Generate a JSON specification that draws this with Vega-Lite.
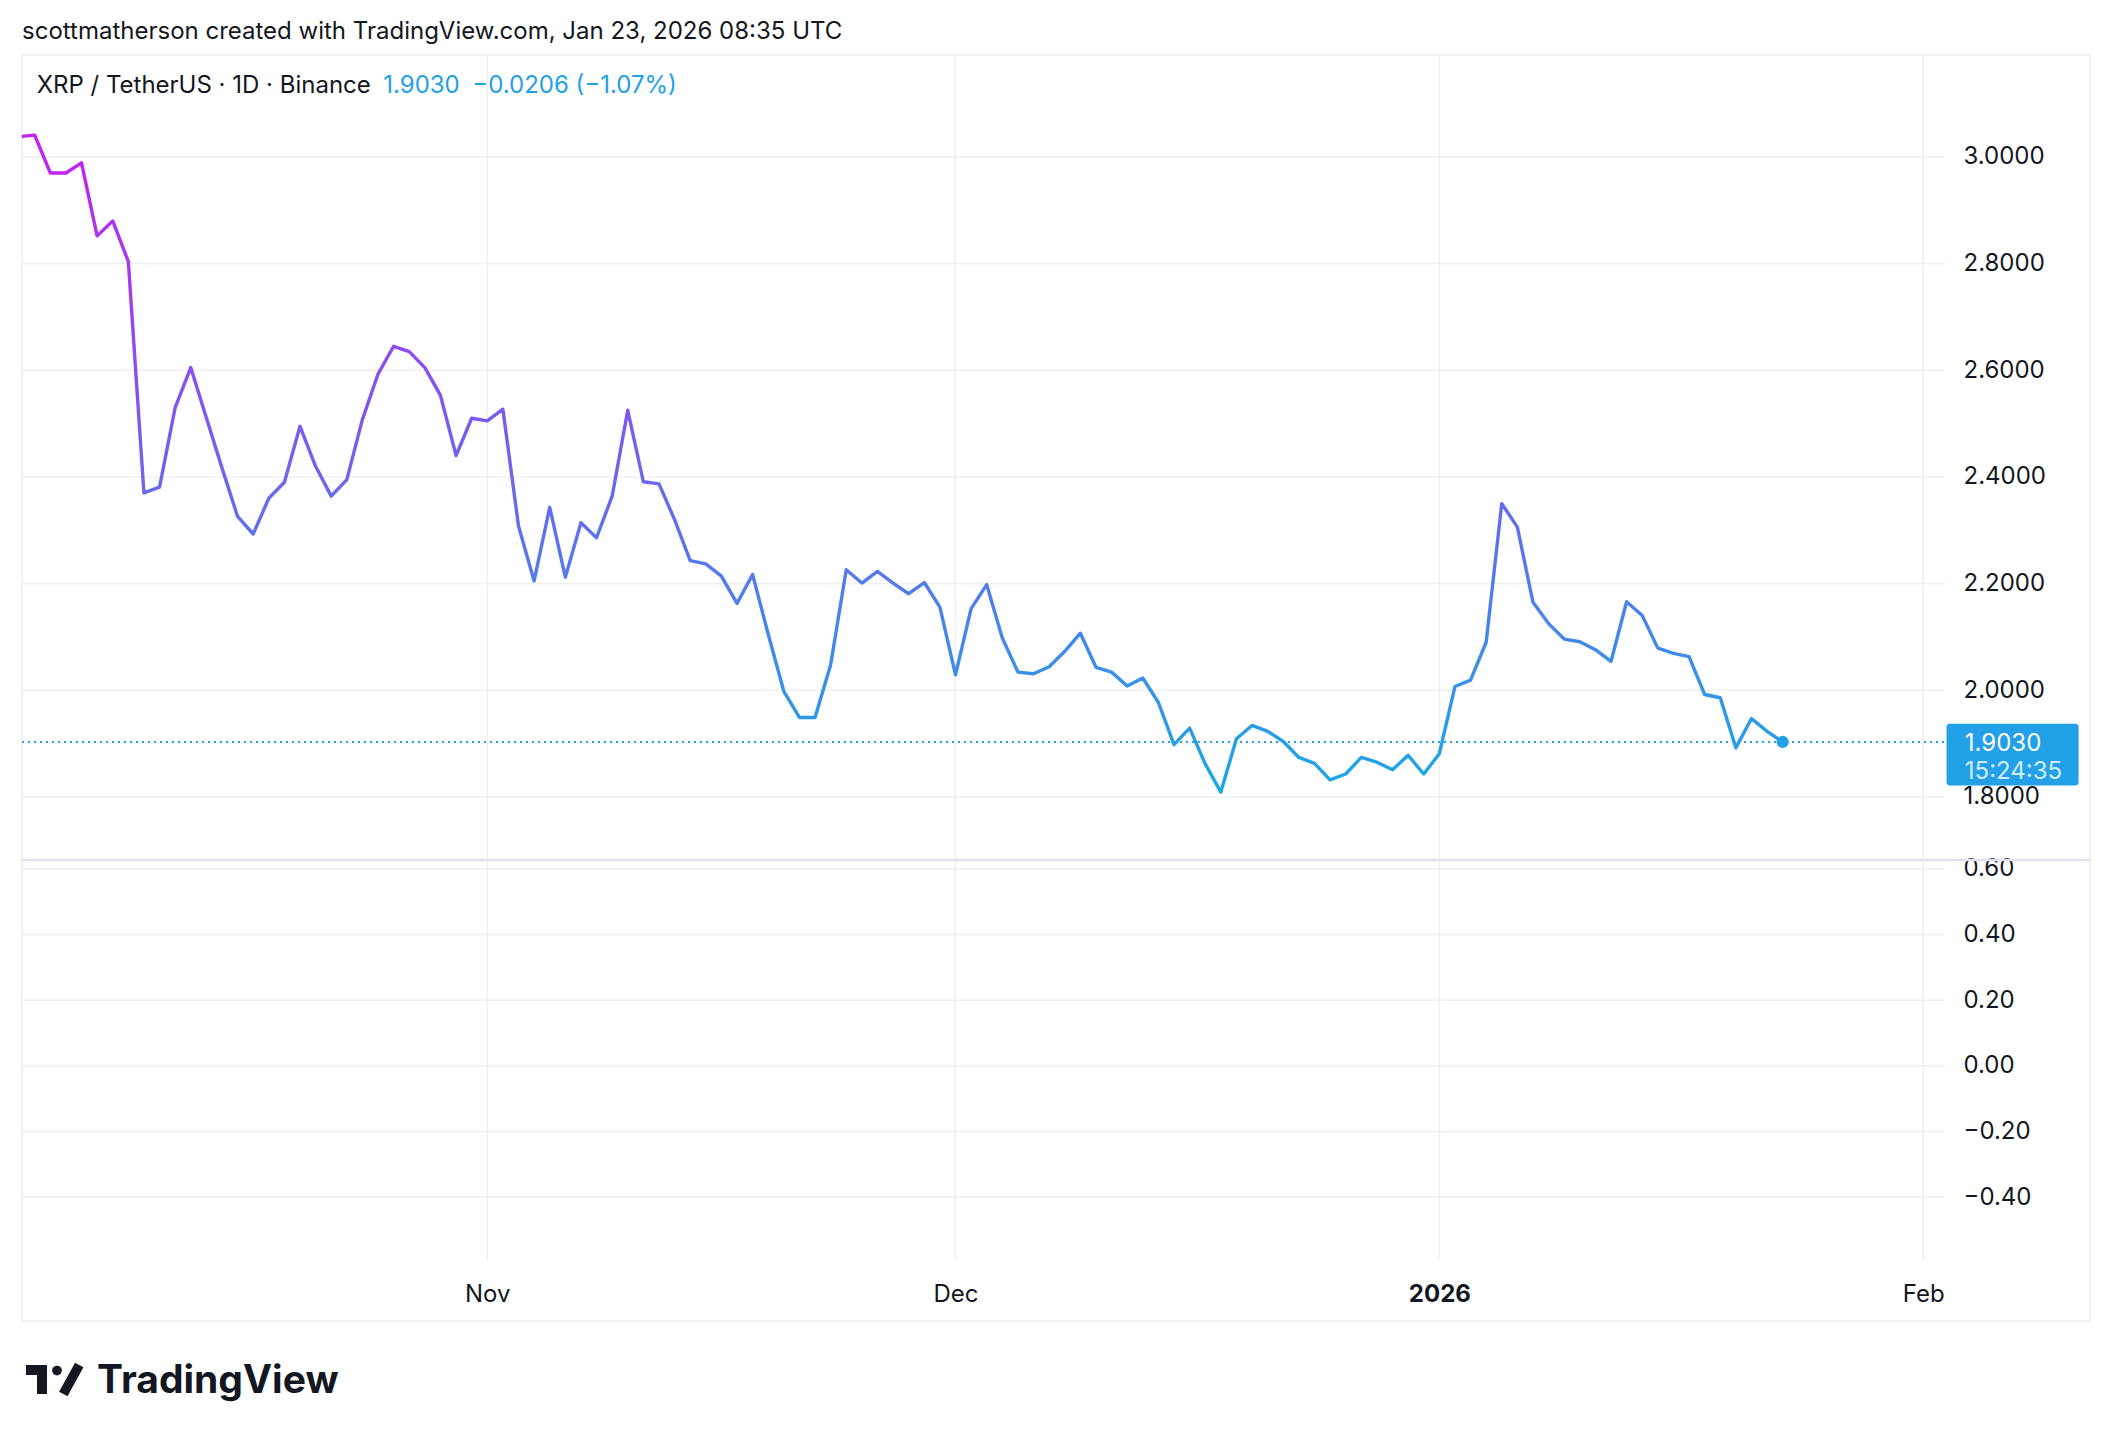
{
  "$schema": "https://vega.github.io/schema/vega-lite/v6.json",
  "background": "white",
  "padding": {"left": 20, "top": 20, "right": 20, "bottom": 20},
  "autosize": {"type": "pad"},
  "title": {
    "text": "scottmatherson created with TradingView.com, Jan 23, 2026 08:35 UTC",
    "anchor": "start",
    "frame": "group",
    "fontSize": 24,
    "fontWeight": "normal",
    "color": "#131722",
    "offset": 9.5
  },
  "config": {
    "font": "Inter",
    "view": {"stroke": "#ececec", "strokeWidth": 1.5},
    "axis": {"labelFont": "Inter", "labelFontSize": 24, "labelColor": "#131722"}
  },
  "datasets": {
    "xrp": [
      {"date": "2025-10-02", "price": 3.038},
      {"date": "2025-10-03", "price": 3.041},
      {"date": "2025-10-04", "price": 2.970},
      {"date": "2025-10-05", "price": 2.970},
      {"date": "2025-10-06", "price": 2.989},
      {"date": "2025-10-07", "price": 2.852},
      {"date": "2025-10-08", "price": 2.880},
      {"date": "2025-10-09", "price": 2.804},
      {"date": "2025-10-10", "price": 2.370},
      {"date": "2025-10-11", "price": 2.381},
      {"date": "2025-10-12", "price": 2.530},
      {"date": "2025-10-13", "price": 2.605},
      {"date": "2025-10-14", "price": 2.511},
      {"date": "2025-10-15", "price": 2.417},
      {"date": "2025-10-16", "price": 2.326},
      {"date": "2025-10-17", "price": 2.293},
      {"date": "2025-10-18", "price": 2.360},
      {"date": "2025-10-19", "price": 2.390},
      {"date": "2025-10-20", "price": 2.495},
      {"date": "2025-10-21", "price": 2.420},
      {"date": "2025-10-22", "price": 2.364},
      {"date": "2025-10-23", "price": 2.395},
      {"date": "2025-10-24", "price": 2.508},
      {"date": "2025-10-25", "price": 2.593},
      {"date": "2025-10-26", "price": 2.645},
      {"date": "2025-10-27", "price": 2.635},
      {"date": "2025-10-28", "price": 2.605},
      {"date": "2025-10-29", "price": 2.553},
      {"date": "2025-10-30", "price": 2.440},
      {"date": "2025-10-31", "price": 2.510},
      {"date": "2025-11-01", "price": 2.505},
      {"date": "2025-11-02", "price": 2.527},
      {"date": "2025-11-03", "price": 2.308},
      {"date": "2025-11-04", "price": 2.205},
      {"date": "2025-11-05", "price": 2.343},
      {"date": "2025-11-06", "price": 2.212},
      {"date": "2025-11-07", "price": 2.314},
      {"date": "2025-11-08", "price": 2.286},
      {"date": "2025-11-09", "price": 2.364},
      {"date": "2025-11-10", "price": 2.525},
      {"date": "2025-11-11", "price": 2.391},
      {"date": "2025-11-12", "price": 2.387},
      {"date": "2025-11-13", "price": 2.320},
      {"date": "2025-11-14", "price": 2.243},
      {"date": "2025-11-15", "price": 2.237},
      {"date": "2025-11-16", "price": 2.214},
      {"date": "2025-11-17", "price": 2.163},
      {"date": "2025-11-18", "price": 2.217},
      {"date": "2025-11-19", "price": 2.105},
      {"date": "2025-11-20", "price": 1.998},
      {"date": "2025-11-21", "price": 1.949},
      {"date": "2025-11-22", "price": 1.949},
      {"date": "2025-11-23", "price": 2.048},
      {"date": "2025-11-24", "price": 2.226},
      {"date": "2025-11-25", "price": 2.201},
      {"date": "2025-11-26", "price": 2.223},
      {"date": "2025-11-27", "price": 2.201},
      {"date": "2025-11-28", "price": 2.181},
      {"date": "2025-11-29", "price": 2.202},
      {"date": "2025-11-30", "price": 2.156},
      {"date": "2025-12-01", "price": 2.029},
      {"date": "2025-12-02", "price": 2.153},
      {"date": "2025-12-03", "price": 2.198},
      {"date": "2025-12-04", "price": 2.098},
      {"date": "2025-12-05", "price": 2.034},
      {"date": "2025-12-06", "price": 2.031},
      {"date": "2025-12-07", "price": 2.044},
      {"date": "2025-12-08", "price": 2.073},
      {"date": "2025-12-09", "price": 2.107},
      {"date": "2025-12-10", "price": 2.043},
      {"date": "2025-12-11", "price": 2.034},
      {"date": "2025-12-12", "price": 2.008},
      {"date": "2025-12-13", "price": 2.023},
      {"date": "2025-12-14", "price": 1.977},
      {"date": "2025-12-15", "price": 1.898},
      {"date": "2025-12-16", "price": 1.929},
      {"date": "2025-12-17", "price": 1.862},
      {"date": "2025-12-18", "price": 1.809},
      {"date": "2025-12-19", "price": 1.909},
      {"date": "2025-12-20", "price": 1.934},
      {"date": "2025-12-21", "price": 1.923},
      {"date": "2025-12-22", "price": 1.904},
      {"date": "2025-12-23", "price": 1.874},
      {"date": "2025-12-24", "price": 1.863},
      {"date": "2025-12-25", "price": 1.832},
      {"date": "2025-12-26", "price": 1.843},
      {"date": "2025-12-27", "price": 1.874},
      {"date": "2025-12-28", "price": 1.865},
      {"date": "2025-12-29", "price": 1.851},
      {"date": "2025-12-30", "price": 1.878},
      {"date": "2025-12-31", "price": 1.843},
      {"date": "2026-01-01", "price": 1.881},
      {"date": "2026-01-02", "price": 2.007},
      {"date": "2026-01-03", "price": 2.019},
      {"date": "2026-01-04", "price": 2.090},
      {"date": "2026-01-05", "price": 2.350},
      {"date": "2026-01-06", "price": 2.306},
      {"date": "2026-01-07", "price": 2.165},
      {"date": "2026-01-08", "price": 2.125},
      {"date": "2026-01-09", "price": 2.096},
      {"date": "2026-01-10", "price": 2.091},
      {"date": "2026-01-11", "price": 2.076},
      {"date": "2026-01-12", "price": 2.054},
      {"date": "2026-01-13", "price": 2.166},
      {"date": "2026-01-14", "price": 2.140},
      {"date": "2026-01-15", "price": 2.079},
      {"date": "2026-01-16", "price": 2.069},
      {"date": "2026-01-17", "price": 2.063},
      {"date": "2026-01-18", "price": 1.992},
      {"date": "2026-01-19", "price": 1.986},
      {"date": "2026-01-20", "price": 1.892},
      {"date": "2026-01-21", "price": 1.947},
      {"date": "2026-01-22", "price": 1.923},
      {"date": "2026-01-23", "price": 1.903}
    ],
    "months": [
      {"date": "2025-11-01"},
      {"date": "2025-12-01"},
      {"date": "2026-01-01"},
      {"date": "2026-02-01"}
    ],
    "priceTicks": [
      {"v": 1.8}, {"v": 2.0}, {"v": 2.2}, {"v": 2.4}, {"v": 2.6}, {"v": 2.8}, {"v": 3.0}
    ],
    "lowerTicks": [
      {"v": -0.4}, {"v": -0.2}, {"v": 0.0}, {"v": 0.2}, {"v": 0.4}, {"v": 0.6}
    ],
    "one": [{}]
  },
  "spacing": 0,
  "bounds": "flush",
  "resolve": {"scale": {"x": "shared", "y": "independent"}},
  "vconcat": [
    {
      "width": 2068,
      "height": 805,
      "layer": [
        {
          "data": {"name": "months"},
          "mark": {"type": "rule", "color": "#f0f0f0", "strokeWidth": 1.5},
          "encoding": {
            "x": {
              "field": "date",
              "type": "temporal",
              "scale": {
                "type": "utc",
                "domain": [
                  {"year": 2025, "month": 10, "date": 2, "hours": 4, "minutes": 30, "utc": true},
                  {"year": 2026, "month": 2, "date": 11, "hours": 16, "minutes": 34, "utc": true}
                ]
              },
              "axis": null
            }
          }
        },
        {
          "data": {"name": "priceTicks"},
          "mark": {"type": "rule", "color": "#f0f0f0", "strokeWidth": 1.5},
          "encoding": {
            "x": {"datum": {"year": 2025, "month": 10, "date": 2, "hours": 4, "minutes": 30, "utc": true}, "type": "temporal"},
            "x2": {"datum": {"year": 2026, "month": 2, "date": 2, "hours": 9, "minutes": 36, "utc": true}},
            "y": {
              "field": "v",
              "type": "quantitative",
              "scale": {"domain": [1.6817, 3.1912], "nice": false, "zero": false},
              "axis": {
                "orient": "right",
                "offset": -127,
                "values": [1.8, 2.0, 2.2, 2.4, 2.6, 2.8, 3.0],
                "format": ".4f",
                "domain": false,
                "ticks": false,
                "grid": false,
                "labelPadding": 0,
                "labelAlign": "left",
                "labelBaseline": "middle",
                "title": null
              }
            }
          }
        },
        {
          "data": {"name": "one"},
          "mark": {"type": "rule", "color": "#22a0e8", "strokeWidth": 2, "strokeDash": [2, 4]},
          "encoding": {
            "x": {"datum": {"year": 2025, "month": 10, "date": 2, "hours": 4, "minutes": 30, "utc": true}, "type": "temporal"},
            "x2": {"datum": {"year": 2026, "month": 2, "date": 2, "hours": 9, "minutes": 36, "utc": true}},
            "y": {"datum": 1.903, "type": "quantitative", "title": null}
          }
        },
        {
          "data": {"name": "xrp"},
          "mark": {
            "type": "line",
            "clip": true,
            "strokeWidth": 3.4,
            "strokeJoin": "round",
            "stroke": {
              "gradient": "linear",
              "x1": 0, "y1": 0, "x2": 0, "y2": 1,
              "stops": [
                {"offset": 0, "color": "#c71ef5"},
                {"offset": 1, "color": "#1aa8e6"}
              ]
            }
          },
          "encoding": {
            "x": {"field": "date", "type": "temporal"},
            "y": {"field": "price", "type": "quantitative", "title": null}
          }
        },
        {
          "data": {"name": "one"},
          "mark": {"type": "point", "filled": true, "opacity": 1, "size": 150, "color": "#22a0e8"},
          "encoding": {
            "x": {"datum": {"year": 2026, "month": 1, "date": 23, "utc": true}, "type": "temporal"},
            "y": {"datum": 1.903, "type": "quantitative", "title": null}
          }
        },
        {
          "data": {"name": "one"},
          "mark": {"type": "rect", "color": "#22a0e8", "cornerRadius": 3},
          "encoding": {
            "x": {"datum": {"year": 2026, "month": 2, "date": 2, "hours": 12, "minutes": 0, "utc": true}, "type": "temporal"},
            "x2": {"datum": {"year": 2026, "month": 2, "date": 10, "hours": 23, "minutes": 0, "utc": true}},
            "y": {"datum": 1.937, "type": "quantitative", "title": null},
            "y2": {"datum": 1.8215}
          }
        },
        {
          "data": {"name": "one"},
          "mark": {"type": "text", "align": "left", "baseline": "middle", "fontSize": 24, "color": "#ffffff"},
          "encoding": {
            "x": {"datum": {"year": 2026, "month": 2, "date": 3, "hours": 16, "minutes": 0, "utc": true}, "type": "temporal"},
            "y": {"datum": 1.9, "type": "quantitative", "title": null},
            "text": {"value": "1.9030"}
          }
        },
        {
          "data": {"name": "one"},
          "mark": {"type": "text", "align": "left", "baseline": "middle", "fontSize": 24, "color": "#d3ebfb"},
          "encoding": {
            "x": {"datum": {"year": 2026, "month": 2, "date": 3, "hours": 16, "minutes": 0, "utc": true}, "type": "temporal"},
            "y": {"datum": 1.847, "type": "quantitative", "title": null},
            "text": {"value": "15:24:35"}
          }
        },
        {
          "data": {"name": "one"},
          "mark": {"type": "text", "align": "left", "baseline": "middle", "fontSize": 24, "color": "#131722"},
          "encoding": {
            "x": {"datum": {"year": 2025, "month": 10, "date": 3, "hours": 3, "minutes": 0, "utc": true}, "type": "temporal"},
            "y": {"datum": 3.133, "type": "quantitative", "title": null},
            "text": {"value": "XRP / TetherUS · 1D · Binance"}
          }
        },
        {
          "data": {"name": "one"},
          "mark": {"type": "text", "align": "left", "baseline": "middle", "fontSize": 24, "color": "#22a0e8"},
          "encoding": {
            "x": {"datum": {"year": 2025, "month": 10, "date": 25, "hours": 8, "minutes": 0, "utc": true}, "type": "temporal"},
            "y": {"datum": 3.133, "type": "quantitative", "title": null},
            "text": {"value": "1.9030"}
          }
        },
        {
          "data": {"name": "one"},
          "mark": {"type": "text", "align": "left", "baseline": "middle", "fontSize": 24, "color": "#22a0e8"},
          "encoding": {
            "x": {"datum": {"year": 2025, "month": 10, "date": 31, "hours": 1, "minutes": 0, "utc": true}, "type": "temporal"},
            "y": {"datum": 3.133, "type": "quantitative", "title": null},
            "text": {"value": "−0.0206 (−1.07%)"}
          }
        }
      ]
    },
    {
      "width": 2068,
      "height": 461,
      "layer": [
        {
          "data": {"name": "months"},
          "mark": {"type": "rule", "color": "#f0f0f0", "strokeWidth": 1.5},
          "encoding": {
            "x": {
              "field": "date",
              "type": "temporal",
              "scale": {
                "type": "utc",
                "domain": [
                  {"year": 2025, "month": 10, "date": 2, "hours": 4, "minutes": 30, "utc": true},
                  {"year": 2026, "month": 2, "date": 11, "hours": 16, "minutes": 34, "utc": true}
                ]
              },
              "axis": {
                "orient": "bottom",
                "offset": -27,
                "values": [
                  {"year": 2025, "month": 11, "date": 1, "utc": true},
                  {"year": 2025, "month": 12, "date": 1, "utc": true},
                  {"year": 2026, "month": 1, "date": 1, "utc": true},
                  {"year": 2026, "month": 2, "date": 1, "utc": true}
                ],
                "labelExpr": "utcmonth(datum.value) == 0 ? utcFormat(datum.value, '%Y') : utcFormat(datum.value, '%b')",
                "labelFontWeight": {"condition": {"test": "utcmonth(datum.value) == 0", "value": "bold"}, "value": "normal"},
                "labelPadding": 0,
                "labelBaseline": "middle",
                "labelAlign": "center",
                "domain": false,
                "ticks": false,
                "grid": false,
                "title": null
              }
            },
            "y": {
              "datum": 0.6274,
              "type": "quantitative",
              "scale": {"domain": [-0.778, 0.6274], "nice": false, "zero": false},
              "title": null
            },
            "y2": {"datum": -0.595}
          }
        },
        {
          "data": {"name": "lowerTicks"},
          "mark": {"type": "rule", "color": "#f0f0f0", "strokeWidth": 1.5},
          "encoding": {
            "x": {"datum": {"year": 2025, "month": 10, "date": 2, "hours": 4, "minutes": 30, "utc": true}, "type": "temporal"},
            "x2": {"datum": {"year": 2026, "month": 2, "date": 2, "hours": 9, "minutes": 36, "utc": true}},
            "y": {
              "field": "v",
              "type": "quantitative",
              "axis": {
                "orient": "right",
                "offset": -127,
                "values": [-0.4, -0.2, 0, 0.2, 0.4, 0.6],
                "format": ".2f",
                "domain": false,
                "ticks": false,
                "grid": false,
                "labelPadding": 0,
                "labelAlign": "left",
                "labelBaseline": "middle",
                "title": null
              }
            }
          }
        },
        {
          "data": {"name": "one"},
          "mark": {"type": "rule", "color": "#dfe2ea", "strokeWidth": 2.5},
          "encoding": {
            "y": {"datum": 0.6274, "type": "quantitative", "title": null}
          }
        },
        {
          "data": {"name": "one"},
          "mark": {"type": "rect", "color": "#131722"},
          "encoding": {
            "x": {"datum": {"year": 2025, "month": 10, "date": 2, "hours": 10, "minutes": 39, "utc": true}, "type": "temporal"},
            "x2": {"datum": {"year": 2025, "month": 10, "date": 3, "hours": 18, "minutes": 57, "utc": true}},
            "y": {"datum": -0.9122, "type": "quantitative", "title": null},
            "y2": {"datum": -0.9427}
          }
        },
        {
          "data": {"name": "one"},
          "mark": {"type": "rect", "color": "#131722"},
          "encoding": {
            "x": {"datum": {"year": 2025, "month": 10, "date": 3, "hours": 3, "minutes": 34, "utc": true}, "type": "temporal"},
            "x2": {"datum": {"year": 2025, "month": 10, "date": 3, "hours": 18, "minutes": 57, "utc": true}},
            "y": {"datum": -0.9122, "type": "quantitative", "title": null},
            "y2": {"datum": -1.0006}
          }
        },
        {
          "data": {"name": "one"},
          "mark": {"type": "point", "filled": true, "opacity": 1, "size": 95, "color": "#131722"},
          "encoding": {
            "x": {"datum": {"year": 2025, "month": 10, "date": 4, "hours": 10, "minutes": 19, "utc": true}, "type": "temporal"},
            "y": {"datum": -0.929, "type": "quantitative", "title": null}
          }
        },
        {
          "data": {"name": "one"},
          "mark": {"type": "rule", "color": "#131722", "strokeWidth": 9.6, "strokeCap": "butt"},
          "encoding": {
            "x": {"datum": {"year": 2025, "month": 10, "date": 5, "hours": 20, "minutes": 28, "utc": true}, "type": "temporal"},
            "x2": {"datum": {"year": 2025, "month": 10, "date": 4, "hours": 20, "minutes": 1, "utc": true}},
            "y": {"datum": -0.9122, "type": "quantitative", "title": null},
            "y2": {"datum": -1.0006}
          }
        },
        {
          "data": {"name": "one"},
          "mark": {"type": "text", "align": "left", "baseline": "alphabetic", "fontSize": 39, "fontWeight": 700, "color": "#131722"},
          "encoding": {
            "x": {"datum": {"year": 2025, "month": 10, "date": 7, "hours": 0, "minutes": 0, "utc": true}, "type": "temporal"},
            "y": {"datum": -0.9980, "type": "quantitative", "title": null},
            "text": {"value": "TradingView"}
          }
        }
      ]
    }
  ]
}
